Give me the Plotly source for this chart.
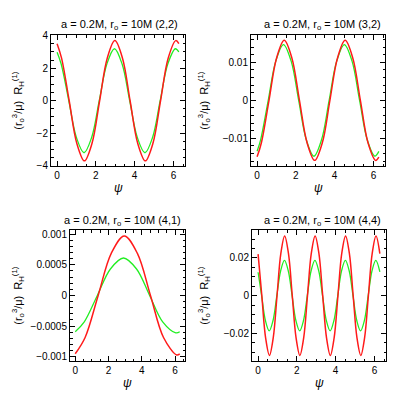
import plotly.graph_objects as go

# (2,2) panel
psi_22_red = [0, 0.231, 0.624, 1.016, 1.409, 1.802, 2.194, 2.587, 2.98, 3.373, 3.765, 4.158, 4.551,
              4.944, 5.336, 5.729, 6.122, 6.28]
val_22_red = [3.51, 2.62, 0, -2.62, -3.7, -2.62, 0, 2.62, 3.7, 2.62, 0, -2.62, -3.7, -2.62, 0, 2.62, 3.7, 3.52]
psi_22_grn = [0, 0.211, 0.604, 0.996, 1.389, 1.782, 2.174, 2.567, 2.96, 3.353, 3.745, 4.138, 4.531,
              4.924, 5.316, 5.709, 6.102, 6.28]
val_22_grn = [2.99, 2.26, 0, -2.26, -3.2, -2.26, 0, 2.26, 3.2, 2.26, 0, -2.26, -3.2, -2.26, 0, 2.26, 3.2, 3.0]

# (3,2) panel
psi_32_red = [0, 0.222, 0.615, 1.007, 1.40, 1.793, 2.185, 2.578, 2.971, 3.364, 3.756, 4.149, 4.542,
              4.934, 5.327, 5.72, 6.112, 6.28]
val_32_red = [-0.01488, -0.01117, 0, 0.01117, 0.0158, 0.01117, 0, -0.01117, -0.0158, -0.01117, 0,
              0.01117, 0.0158, 0.01117, 0, -0.01117, -0.0158, -0.01493]
psi_32_grn = [0, 0.182, 0.575, 0.967, 1.36, 1.753, 2.145, 2.538, 2.931, 3.324, 3.716, 4.109, 4.502,
              4.894, 5.287, 5.68, 6.072, 6.28]
val_32_grn = [-0.01341, -0.01039, 0, 0.01039, 0.0147, 0.01039, 0, -0.01039, -0.0147, -0.01039, 0,
              0.01039, 0.0147, 0.01039, 0, -0.01039, -0.0147, -0.01344]

# (4,1) panel
psi_41_red = [0, 0.594, 1.379, 2.165, 2.95, 3.735, 4.521, 5.306, 6.092, 6.28]
val_41_red = [-0.000952, -0.000686, 0, 0.000686, 0.00097, 0.000686, 0, -0.000686, -0.00097, -0.000952]
psi_41_grn = [0, 0.544, 1.329, 2.115, 2.90, 3.685, 4.471, 5.256, 6.042, 6.28]
val_41_grn = [-0.000592, -0.000431, 0, 0.000431, 0.00061, 0.000431, 0, -0.000431, -0.00061, -0.000593]

# (4,4) panel
psi_44_red = [0, 0.192, 0.388, 0.585, 0.781, 0.977, 1.174, 1.37, 1.566, 1.763, 1.959, 2.155, 2.352,
              2.548, 2.744, 2.941, 3.137, 3.333, 3.53, 3.726, 3.922, 4.119, 4.315, 4.512, 4.708,
              4.904, 5.1, 5.297, 5.493, 5.689, 5.886, 6.082, 6.28]
val_44_red = [0.0220, 0, -0.0224, -0.0317, -0.0224, 0, 0.0224, 0.0317, 0.0224, 0, -0.0224, -0.0317,
              -0.0224, 0, 0.0224, 0.0317, 0.0224, 0, -0.0224, -0.0317, -0.0224, 0, 0.0224, 0.0317,
              0.0224, 0, -0.0224, -0.0317, -0.0224, 0, 0.0224, 0.0317, 0.0223]
psi_44_grn = [0, 0.182, 0.378, 0.575, 0.771, 0.967, 1.164, 1.36, 1.556, 1.753, 1.949, 2.145, 2.342,
              2.538, 2.734, 2.931, 3.127, 3.323, 3.52, 3.716, 3.912, 4.109, 4.305, 4.502, 4.698,
              4.894, 5.09, 5.287, 5.483, 5.679, 5.876, 6.072, 6.28]
val_44_grn = [0.0124, 0, -0.0132, -0.0187, -0.0132, 0, 0.0132, 0.0187, 0.0132, 0, -0.0132, -0.0187,
              -0.0132, 0, 0.0132, 0.0187, 0.0132, 0, -0.0132, -0.0187, -0.0132, 0, 0.0132, 0.0187,
              0.0132, 0, -0.0132, -0.0187, -0.0132, 0, 0.0132, 0.0187, 0.0126]

x_ticks = [0, 2, 4, 6]
y_ticks_22 = [-4, -2, 0, 2, 4]
y_labels_22 = ["\u22124", "\u22122", "0", "2", "4"]
y_ticks_32 = [-0.01, 0, 0.01]
y_labels_32 = ["\u22120.01", "0", "0.01"]
y_ticks_41 = [-0.001, -0.0005, 0, 0.0005, 0.001]
y_labels_41 = ["\u22120.001", "\u22120.0005", "0", "0.0005", "0.001"]
y_ticks_44 = [-0.02, 0, 0.02]
y_labels_44 = ["\u22120.02", "0", "0.02"]

titles = ["(2,2)", "(3,2)", "(4,1)", "(4,4)"]

W = 399
FONT = "Liberation Sans"


def px(v):
    return v / W


def py(v):
    return 1 - v / W


panels = [
    # psi/val lists, y ticks, y range, minor y, x domain px, y domain px
    dict(r=(psi_22_red, val_22_red), g=(psi_22_grn, val_22_grn), yt=y_ticks_22, yl=y_labels_22,
         yr=[-4.02, 4.02], ym=0.5, xd=(43, 177), yd=(23, 157), tx=111, ty=12),
    dict(r=(psi_32_red, val_32_red), g=(psi_32_grn, val_32_grn), yt=y_ticks_32, yl=y_labels_32,
         yr=[-0.0173, 0.0171], ym=0.002, xd=(243, 377), yd=(23, 157), tx=314, ty=12),
    dict(r=(psi_41_red, val_41_red), g=(psi_41_grn, val_41_grn), yt=y_ticks_41, yl=y_labels_41,
         yr=[-0.00107, 0.00106], ym=0.0001, xd=(62, 177), yd=(223, 357), tx=114, ty=213),
    dict(r=(psi_44_red, val_44_red), g=(psi_44_grn, val_44_grn), yt=y_ticks_44, yl=y_labels_44,
         yr=[-0.0347, 0.0346], ym=0.005, xd=(244, 378), yd=(223, 357), tx=314, ty=213),
]

fig = go.Figure()
annotations = []
for i, p in enumerate(panels):
    n = "" if i == 0 else str(i + 1)
    fig.add_trace(go.Scatter(x=p["g"][0], y=p["g"][1], mode="lines",
                             line=dict(color="#22ee22", width=1.3, shape="spline"),
                             xaxis="x" + n, yaxis="y" + n, showlegend=False))
    fig.add_trace(go.Scatter(x=p["r"][0], y=p["r"][1], mode="lines",
                             line=dict(color="#ff1a1a", width=1.5, shape="spline"),
                             xaxis="x" + n, yaxis="y" + n, showlegend=False))
    common = dict(showgrid=False, zeroline=False, showline=True, linecolor="black", linewidth=1,
                  mirror="allticks", ticks="inside", ticklen=5, tickcolor="black", tickwidth=1,
                  tickfont=dict(family=FONT, size=10, color="black"))
    fig.update_layout(**{
        "xaxis" + n: dict(common, domain=[px(p["xd"][0]), px(p["xd"][1])], range=[-0.314, 6.597],
                          tickvals=x_ticks, anchor="y" + n,
                          minor=dict(dtick=0.5, tick0=0, ticklen=2.5, ticks="inside", tickcolor="black")),
        "yaxis" + n: dict(common, domain=[py(p["yd"][1]), py(p["yd"][0])], range=p["yr"],
                          tickvals=p["yt"], ticktext=p["yl"], anchor="x" + n,
                          minor=dict(dtick=p["ym"], tick0=0, ticklen=2.5, ticks="inside", tickcolor="black")),
    })
    annotations.append(dict(x=px(p["tx"]), y=py(p["ty"]), xref="paper", yref="paper",
                            text="a = 0.2M, r<sub>o</sub> = 10M " + titles[i], showarrow=False,
                            xanchor="center", yanchor="middle", font=dict(family=FONT, size=11, color="black")))
    xc = (p["xd"][0] + p["xd"][1]) / 2
    annotations.append(dict(x=px(xc), y=py(p["yd"][1] + 22), xref="paper", yref="paper",
                            text="<i>\u03c8</i>", showarrow=False, xanchor="center", yanchor="middle",
                            font=dict(family=FONT, size=12, color="black")))

ylab = "(r<sub>o</sub><sup>3</sup>/\u03bc)  R<sub>H</sub><sup>(1)</sup>"
for lx, ly in [(10, 90), (196, 90), (10, 290), (196, 290)]:
    annotations.append(dict(x=px(lx), y=py(ly), xref="paper", yref="paper", text=ylab,
                            showarrow=False, textangle=-90, xanchor="center", yanchor="middle",
                            font=dict(family=FONT, size=11, color="black")))

fig.update_layout(width=W, height=W, margin=dict(l=0, r=0, t=0, b=0),
                  paper_bgcolor="white", plot_bgcolor="white", annotations=annotations)

fig.write_html("out.html")
